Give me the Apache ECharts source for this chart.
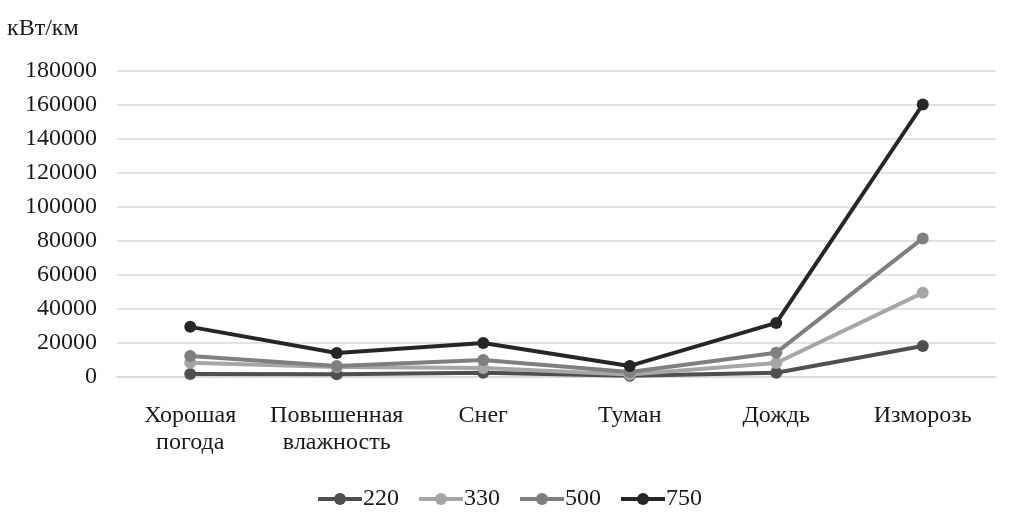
<!DOCTYPE html>
<html><head><meta charset="utf-8">
<script src="https://cdn.jsdelivr.net/npm/echarts@6/dist/echarts.min.js"></script>
<style>html,body{margin:0;padding:0;background:#fff}#c{width:1018px;height:531px}</style>
</head><body><div id="c"></div>
<script>
const categories = ['Хорошая\nпогода', 'Повышенная\nвлажность', 'Снег', 'Туман', 'Дождь', 'Изморозь'];
const s220 = [1800, 1600, 2500, 800, 2500, 18200];
const s330 = [8400, 5900, 5300, 1500, 8200, 49500];
const s500 = [12400, 6500, 10000, 3000, 14300, 81500];
const s750 = [29500, 14100, 20000, 6500, 31800, 160300];
const seriesNames = ['220', '330', '500', '750'];
const colors = ['#4f4f4f', '#a6a6a6', '#7f7f7f', '#262626'];
const font = 'Liberation Serif';
const fs = 24;
const chart = echarts.init(document.getElementById('c'));
const data = [s220, s330, s500, s750];
chart.setOption({
  animation: false,
  textStyle: {fontFamily: font},
  grid: {left: 117, right: 22, top: 71, bottom: 154},
  legend: {
    top: 482, left: 'center', itemGap: 18, itemWidth: 44, itemHeight: 15,
    lineStyle: {width: 4},
    textStyle: {fontFamily: font, fontSize: fs, color: '#1a1a1a', padding: [0,0,0,-4]},
    data: seriesNames
  },
  xAxis: {
    type: 'category', data: categories, boundaryGap: true,
    axisLine: {lineStyle: {color: '#d9d9d9', width: 1.5}},
    axisTick: {show: false},
    axisLabel: {interval: 0, fontFamily: font, fontSize: fs, color: '#1a1a1a', margin: 25, lineHeight: 27}
  },
  yAxis: {
    type: 'value', min: 0, max: 180000, interval: 20000,
    name: 'кВт/км', nameLocation: 'end', nameGap: 30,
    nameTextStyle: {fontFamily: font, fontSize: fs, color: '#1a1a1a', align: 'left', padding: [0,0,0,-110]},
    axisLine: {show: false}, axisTick: {show: false},
    splitLine: {lineStyle: {color: '#d9d9d9', width: 1.5}},
    axisLabel: {fontFamily: font, fontSize: fs, color: '#1a1a1a', margin: 20, formatter: v => String(v)}
  },
  series: seriesNames.map((n, i) => ({
    name: n, type: 'line', data: data[i],
    symbol: 'circle', symbolSize: 12,
    lineStyle: {color: colors[i], width: 4},
    itemStyle: {color: colors[i]},
    z: 2 + i
  }))
});
</script></body></html>
